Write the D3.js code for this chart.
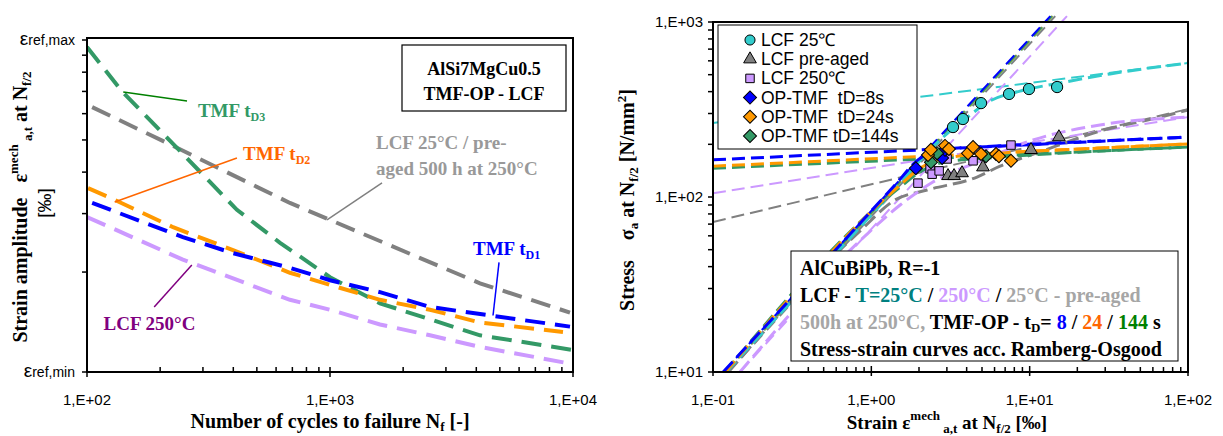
<!DOCTYPE html>
<html>
<head>
<meta charset="utf-8">
<script src="https://cdn.jsdelivr.net/npm/d3@7"></script>
<style>
  body { margin: 0; background: #fff; }
  svg { display: block; }
  text { font-family: "Liberation Sans", Arial, sans-serif; white-space: pre; }
  .serif { font-family: "Liberation Serif", "Times New Roman", serif; font-weight: bold; }
</style>
</head>
<body>
<svg id="chart" width="1223" height="436"></svg>
<script>
// ---------- left panel: strain amplitude (εref,min = 1 ... εref,max = 10) vs cycles to failure
const preAgedN = [105, 213, 684, 2196, 4143, 9720];
const preAgedEps = [6.28, 4.90, 3.23, 2.25, 1.85, 1.51];
const tD3N = [100, 139, 414, 623, 1000, 1606, 4143, 10000];
const tD3Eps = [9.53, 7.02, 3.08, 2.45, 1.93, 1.61, 1.29, 1.165];
const lcf250N = [100, 248, 684, 1000, 1606, 2579, 4143, 9720];
const lcf250Eps = [2.93, 2.18, 1.65, 1.54, 1.39, 1.29, 1.19, 1.06];
const tD2N = [101, 130, 226, 399, 684, 1000, 1606, 2579, 4143, 9095];
const tD2Eps = [3.58, 3.30, 2.73, 2.33, 1.99, 1.83, 1.65, 1.54, 1.41, 1.32];
const tD1N = [105, 248, 399, 684, 1000, 1606, 2579, 4554, 9720];
const tD1Eps = [3.23, 2.55, 2.28, 2.06, 1.89, 1.74, 1.57, 1.48, 1.37];
const lifeTicks = [100, 1000, 10000];

// ---------- right panel: stress amplitude vs strain amplitude (‰, N/mm²)
const lcf25Strain = [3.28, 3.79, 4.93, 7.41, 9.90, 14.9];
const lcf25Stress = [251, 279, 344, 388, 414, 425];
const preAgedStrain = [3.05, 3.33, 3.74, 5.07, 10.2, 15.3];
const preAgedStress = [132, 132, 137, 148, 186, 220];
const lcf250Strain = [1.97, 2.35, 2.42, 2.68, 3.01, 4.39, 7.62];
const lcf250Stress = [120, 145, 135, 141, 165, 161, 198];
const tmf8Strain = [1.91, 2.80, 2.92];
const tmf8Stress = [146, 167, 186];
const tmf144Strain = [2.38, 2.60, 5.30];
const tmf144Stress = [158, 178, 171];
const tmf24Strain = [2.28, 2.38, 2.92, 3.09, 4.08, 4.39, 4.93, 6.13, 6.40, 7.62];
const tmf24Stress = [174, 186, 196, 188, 178, 193, 176, 176, 171, 161];

// elastic lines: strain at 10 and 1080 N/mm²
const elasticStress = [10, 1080];
const elasticCyan = [0.121, 14.0];
const elasticGray = [0.125, 14.5];
const elasticLav = [0.148, 17.2];
const elasticGreen = [0.119, 13.8];
const elasticOrange = [0.120, 13.9];
const elasticBlue = [0.116, 13.5];

// plastic lines: stress at 0.1 and 100 ‰
const plasticStrain = [0.1, 100];
const plasticCyan = [265, 583];
const plasticGray = [72, 318];
const plasticLav = [105, 286];
const plasticGreen = [146, 193];
const plasticOrange = [150, 201];
const plasticBlue = [163, 220];

// Ramberg-Osgood curves
const roCyanStrain = [0.121, 1.27, 2.72, 3.91, 5.62, 8.69, 15.5, 32.2, 100];
const roCyanStress = [10, 100, 212, 279, 354, 403, 448, 505, 583];
const roGrayStrain = [0.125, 0.861, 1.41, 2.25, 4.65, 6.50, 11.6, 27.8, 66.6, 100];
const roGrayStress = [10, 64.8, 96.1, 109.6, 130, 150, 181, 238, 286, 314];
const roLavStrain = [0.148, 0.925, 1.52, 2.45, 5.07, 10.5, 27.8, 100];
const roLavStress = [10, 60.6, 90, 121.8, 162.7, 211.7, 258, 286];
const roGreenStrain = [0.119, 1.52, 2.03, 2.92, 6.50, 27.8, 100];
const roGreenStress = [10, 114, 139, 158.5, 169, 183, 193];
const roOrangeStrain = [0.120, 1.52, 2.03, 2.92, 6.50, 27.8, 100];
const roOrangeStress = [10, 117, 146, 167, 178, 190.5, 201];
const roBlueStrain = [0.116, 1.41, 1.97, 2.72, 6.50, 27.8, 100];
const roBlueStress = [10, 117, 163, 186, 196, 209, 220];

const strainTicks = [0.1, 1, 10, 100];
const stressTicks = [10, 100, 1000];
const legendLabels = ['LCF 25℃', 'LCF pre-aged', 'LCF 250℃', 'OP-TMF  tD=8s', 'OP-TMF  tD=24s', 'OP-TMF tD=144s'];

const svg = d3.select('#chart');
const zip = (a, b) => a.map((v, i) => [v, b[i]]);
const expLabel = v => {
  const e = Math.round(Math.log10(v));
  return '1,E' + (e < 0 ? '-' : '+') + String(Math.abs(e)).padStart(2, '0');
};
const minorTicks = dom => {
  const out = [];
  for (let d = dom[0]; d < dom[1]; d *= 10) for (let k = 2; k <= 9; k++) out.push(d * k);
  return out;
};

// rich text helper: parts = [text, {size, dy, fill}]
function rich(sel, parts) {
  parts.forEach(p => {
    const t = sel.append('tspan').text(p[0]);
    const o = p[1] || {};
    if (o.size) t.attr('font-size', o.size);
    if (o.dy) t.attr('dy', o.dy);
    if (o.fill) t.attr('fill', o.fill);
  });
  return sel;
}

/* ================= LEFT PANEL ================= */
const xL = d3.scaleLog().domain([1e2, 1e4]).range([87, 573]);
const yL = d3.scaleLog().domain([1, 10]).range([372, 40]);
const gL = svg.append('g');
gL.append('clipPath').attr('id', 'clipL').append('rect')
  .attr('x', 87).attr('y', 38).attr('width', 486).attr('height', 334);

const lifeLine = d3.line().x(d => xL(d[0])).y(d => yL(d[1]));
const lifeCurves = [
  { n: preAgedN, e: preAgedEps, color: '#808080' },
  { n: tD3N, e: tD3Eps, color: '#339966' },
  { n: lcf250N, e: lcf250Eps, color: '#cc99ff' },
  { n: tD2N, e: tD2Eps, color: '#ff9900' },
  { n: tD1N, e: tD1Eps, color: '#0000ff' }
];
gL.append('g').attr('clip-path', 'url(#clipL)')
  .selectAll('path').data(lifeCurves).join('path')
  .attr('d', d => lifeLine(zip(d.n, d.e)))
  .attr('fill', 'none').attr('stroke', d => d.color)
  .attr('stroke-width', 4).attr('stroke-dasharray', '20,10');

// frame + ticks
gL.append('rect').attr('x', 87).attr('y', 38).attr('width', 486).attr('height', 334)
  .attr('fill', 'none').attr('stroke', '#000').attr('stroke-width', 2);
gL.selectAll('.ytk').data(d3.range(1, 11)).join('line')
  .attr('x1', 82).attr('x2', 87).attr('y1', d => yL(d)).attr('y2', d => yL(d))
  .attr('stroke', '#000').attr('stroke-width', 1.5);
gL.selectAll('.xmin').data(minorTicks(xL.domain())).join('line')
  .attr('x1', d => xL(d)).attr('x2', d => xL(d)).attr('y1', 372).attr('y2', 367)
  .attr('stroke', '#000').attr('stroke-width', 1.5);
gL.selectAll('.xmaj').data(lifeTicks).join('line')
  .attr('x1', d => xL(d)).attr('x2', d => xL(d)).attr('y1', 367).attr('y2', 377)
  .attr('stroke', '#000').attr('stroke-width', 1.5);
gL.selectAll('.xlab').data(lifeTicks).join('text')
  .attr('x', d => xL(d)).attr('y', 405).attr('text-anchor', 'middle')
  .attr('font-size', 15).text(expLabel);

[[10, 'max'], [1, 'min']].forEach(([v, s]) => {
  rich(gL.append('text').attr('x', 75).attr('y', yL(v) + 5).attr('text-anchor', 'end').attr('font-size', 14),
    [['ε', { size: 19 }], ['ref,' + s, { size: 14 }]]);
});

// axis titles
rich(gL.append('text').attr('class', 'serif').attr('font-size', 20)
  .attr('x', 330).attr('y', 428).attr('text-anchor', 'middle'),
  [['Number of cycles to failure N'], ['f', { size: 13, dy: 3 }], [' [-]', { dy: -3 }]]);
rich(gL.append('text').attr('class', 'serif').attr('font-size', 20)
  .attr('transform', 'translate(27,207) rotate(-90)').attr('text-anchor', 'middle'),
  [['Strain amplitude   ε'], ['mech', { size: 13, dy: -9 }], [' a,t', { size: 13, dy: 14 }],
   [' at N', { dy: -5 }], ['f/2', { size: 13, dy: 4 }]]);
gL.append('text').attr('font-family', '"Liberation Serif", serif').attr('font-size', 19)
  .attr('transform', 'translate(51,203) rotate(-90)').attr('text-anchor', 'middle').text('[‰]');

// material box
gL.append('rect').attr('x', 402).attr('y', 45).attr('width', 164).attr('height', 66)
  .attr('fill', '#fff').attr('stroke', '#000').attr('stroke-width', 1.2);
gL.append('text').attr('class', 'serif').attr('font-size', 18).attr('x', 484).attr('y', 75)
  .attr('text-anchor', 'middle').text('AlSi7MgCu0.5');
gL.append('text').attr('class', 'serif').attr('font-size', 18).attr('x', 484).attr('y', 100)
  .attr('text-anchor', 'middle').text('TMF-OP - LCF');

// annotations: leader from/to and text anchor in data coordinates
const lifeNotes = [
  { from: [141, 6.97], to: [258, 6.55], line: '#008000', at: [286, 5.86], fill: '#339966', parts: [['TMF t'], ['D3', { size: 12, dy: 4 }]] },
  { from: [130, 3.25], to: [414, 4.41], line: '#ff6600', at: [439, 4.35], fill: '#ff6600', parts: [['TMF t'], ['D2', { size: 12, dy: 4 }]] },
  { from: [972, 2.87], to: [1637, 3.71], line: '#808080', at: null },
  { from: [4687, 1.48], to: [4961, 2.14], line: '#0000ff', at: [3877, 2.25], fill: '#0000ff', parts: [['TMF t'], ['D1', { size: 12, dy: 4 }]] },
  { from: [189, 1.57], to: [270, 2.10], line: '#800080', at: [117, 1.34], fill: '#800080', parts: [['LCF 250°C']] }
];
lifeNotes.forEach(a => {
  gL.append('line').attr('x1', xL(a.from[0])).attr('y1', yL(a.from[1]))
    .attr('x2', xL(a.to[0])).attr('y2', yL(a.to[1]))
    .attr('stroke', a.line).attr('stroke-width', 1.5);
  if (a.at) rich(gL.append('text').attr('class', 'serif').attr('font-size', 19)
    .attr('x', xL(a.at[0])).attr('y', yL(a.at[1])).attr('fill', a.fill), a.parts);
});
gL.append('text').attr('class', 'serif').attr('font-size', 19).attr('fill', '#999')
  .attr('x', xL(1546)).attr('y', yL(4.70)).text('LCF 25°C / pre-');
gL.append('text').attr('class', 'serif').attr('font-size', 19).attr('fill', '#999')
  .attr('x', xL(1546)).attr('y', yL(3.92)).text('aged 500 h at 250°C');

/* ================= RIGHT PANEL ================= */
const xR = d3.scaleLog().domain([0.1, 100]).range([713, 1188]);
const yR = d3.scaleLog().domain([10, 1000]).range([372, 22]);
const gR = svg.append('g');
gR.append('clipPath').attr('id', 'clipR').append('rect')
  .attr('x', 713).attr('y', 8).attr('width', 480).attr('height', 364);
const ssLine = d3.line().x(d => xR(d[0])).y(d => yR(d[1]));
const roLine = d3.line().x(d => xR(d[0])).y(d => yR(d[1])).curve(d3.curveMonotoneX);

const colors = { cyan: '#33cccc', gray: '#808080', lav: '#cc99ff', green: '#339966', orange: '#ff9900', blue: '#0000ff' };
const plastic = [
  [plasticGray, colors.gray, 2], [plasticLav, colors.lav, 2], [plasticCyan, colors.cyan, 2],
  [plasticGreen, colors.green, 3], [plasticOrange, colors.orange, 3], [plasticBlue, colors.blue, 3]
];
const elastic = [
  [elasticLav, colors.lav], [elasticGray, colors.gray], [elasticCyan, colors.cyan],
  [elasticOrange, colors.orange], [elasticGreen, colors.green], [elasticBlue, colors.blue]
];
const ro = [
  [roGrayStrain, roGrayStress, colors.gray], [roLavStrain, roLavStress, colors.lav],
  [roCyanStrain, roCyanStress, colors.cyan], [roGreenStrain, roGreenStress, colors.green],
  [roOrangeStrain, roOrangeStress, colors.orange], [roBlueStrain, roBlueStress, colors.blue]
];
const lines = gR.append('g').attr('clip-path', 'url(#clipR)');
lines.selectAll('.pl').data(plastic).join('path')
  .attr('d', d => ssLine(zip(plasticStrain, d[0])))
  .attr('fill', 'none').attr('stroke', d => d[1]).attr('stroke-width', d => d[2])
  .attr('stroke-dasharray', '13,6');
lines.selectAll('.el').data(elastic).join('path')
  .attr('d', d => ssLine(zip(d[0], elasticStress)))
  .attr('fill', 'none').attr('stroke', d => d[1]).attr('stroke-width', 2)
  .attr('stroke-dasharray', '12,7');
lines.selectAll('.ro').data(ro).join('path')
  .attr('d', d => roLine(zip(d[0], d[1])))
  .attr('fill', 'none').attr('stroke', d => d[2]).attr('stroke-width', 3)
  .attr('stroke-dasharray', '14,6');

// markers
const shapes = {
  circle: d3.symbol().type(d3.symbolCircle).size(100)(),
  triangle: d3.symbol().type(d3.symbolTriangle).size(70)(),
  square: d3.symbol().type(d3.symbolSquare).size(72)(),
  diamond: d3.symbol().type(d3.symbolSquare).size(85)()
};
const markerSets = [
  { x: lcf250Strain, y: lcf250Stress, shape: 'square', fill: colors.lav },
  { x: preAgedStrain, y: preAgedStress, shape: 'triangle', fill: colors.gray },
  { x: lcf25Strain, y: lcf25Stress, shape: 'circle', fill: colors.cyan },
  { x: tmf8Strain, y: tmf8Stress, shape: 'diamond', fill: colors.blue },
  { x: tmf144Strain, y: tmf144Stress, shape: 'diamond', fill: colors.green },
  { x: tmf24Strain, y: tmf24Stress, shape: 'diamond', fill: colors.orange }
];
markerSets.forEach(s => {
  gR.append('g').selectAll('path').data(zip(s.x, s.y)).join('path')
    .attr('d', shapes[s.shape])
    .attr('transform', d => `translate(${xR(d[0])},${yR(d[1])})` + (s.shape === 'diamond' ? ' rotate(45)' : ''))
    .attr('fill', s.fill).attr('stroke', '#000').attr('stroke-width', 1);
});

// frame + ticks
gR.append('rect').attr('x', 713).attr('y', 22).attr('width', 475).attr('height', 350)
  .attr('fill', 'none').attr('stroke', '#000').attr('stroke-width', 2);
gR.selectAll('.ymin').data(minorTicks(yR.domain()).concat(stressTicks)).join('line')
  .attr('x1', 708).attr('x2', 713).attr('y1', d => yR(d)).attr('y2', d => yR(d))
  .attr('stroke', '#000').attr('stroke-width', 1.5);
gR.selectAll('.xmin').data(minorTicks(xR.domain())).join('line')
  .attr('x1', d => xR(d)).attr('x2', d => xR(d)).attr('y1', 372).attr('y2', 367)
  .attr('stroke', '#000').attr('stroke-width', 1.5);
gR.selectAll('.xmaj').data(strainTicks).join('line')
  .attr('x1', d => xR(d)).attr('x2', d => xR(d)).attr('y1', 366).attr('y2', 376)
  .attr('stroke', '#000').attr('stroke-width', 1.5);
gR.selectAll('.xlab').data(strainTicks).join('text')
  .attr('x', d => xR(d)).attr('y', 405).attr('text-anchor', 'middle')
  .attr('font-size', 15).text(expLabel);
gR.selectAll('.ylab').data(stressTicks).join('text')
  .attr('x', 703).attr('y', d => yR(d) + 5).attr('text-anchor', 'end')
  .attr('font-size', 15).text(expLabel);

// axis titles
rich(gR.append('text').attr('class', 'serif').attr('font-size', 19)
  .attr('x', 947).attr('y', 429).attr('text-anchor', 'middle'),
  [['Strain ε'], ['mech', { size: 13, dy: -9 }], [' a,t', { size: 13, dy: 13 }],
   [' at N', { dy: -4 }], ['f/2', { size: 13, dy: 4 }], [' [‰]', { dy: -4 }]]);
rich(gR.append('text').attr('class', 'serif').attr('font-size', 20)
  .attr('transform', 'translate(634,200) rotate(-90)').attr('text-anchor', 'middle'),
  [['Stress    σ'], ['a', { size: 13, dy: 4 }], [' at N', { dy: -4 }], ['f/2', { size: 13, dy: 4 }],
   [' [N/mm', { dy: -4 }], ['2', { size: 13, dy: -8 }], [']', { dy: 8 }]]);

// legend
const leg = gR.append('g');
leg.append('rect').attr('x', 718).attr('y', 25).attr('width', 199).attr('height', 124)
  .attr('fill', '#fff').attr('stroke', '#000').attr('stroke-width', 1);
const legOrder = [2, 1, 0, 3, 5, 4];
legendLabels.forEach((lab, i) => {
  const s = markerSets[legOrder[i]];
  const cy = 40 + i * 19.2;
  leg.append('path').attr('d', s.shape === 'circle' ? d3.symbol().type(d3.symbolCircle).size(80)() : shapes[s.shape])
    .attr('transform', `translate(750,${cy})` + (s.shape === 'diamond' ? ' rotate(45)' : ''))
    .attr('fill', s.fill).attr('stroke', '#000').attr('stroke-width', 1);
  leg.append('text').attr('x', 761).attr('y', cy + 6).attr('font-size', 17.5).text(lab);
});

// info box
gR.append('rect').attr('x', 791).attr('y', 251).attr('width', 387).attr('height', 110)
  .attr('fill', '#fff').attr('stroke', '#000').attr('stroke-width', 1);
const info = [
  [['AlCuBiPb, R=-1']],
  [['LCF - '], ['T=25°C', { fill: '#008080' }], [' / '], ['250°C', { fill: '#cc99ff' }], [' / '], ['25°C - pre-aged', { fill: '#a6a6a6' }]],
  [['500h at 250°C,', { fill: '#a6a6a6' }], [' TMF-OP - t'], ['D', { size: 13, dy: 3 }], ['= ', { dy: -3 }],
   ['8', { fill: '#0000ff' }], [' / '], ['24', { fill: '#ff6600' }], [' / '], ['144', { fill: '#008000' }], [' s']],
  [['Stress-strain curves acc. Ramberg-Osgood']]
];
info.forEach((parts, i) => {
  rich(gR.append('text').attr('class', 'serif').attr('font-size', 20)
    .attr('x', 800).attr('y', 275 + i * 27), parts);
});
</script>
</body>
</html>
